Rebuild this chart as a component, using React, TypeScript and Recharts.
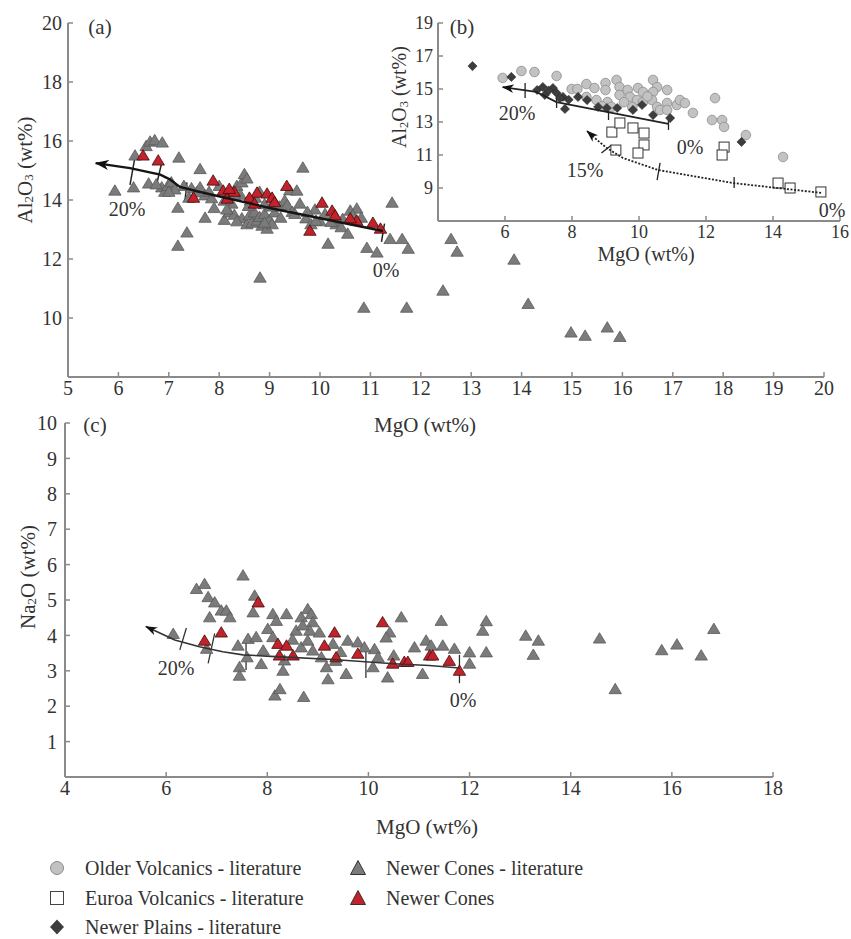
import React from 'react';
import { ScatterChart, Scatter, XAxis, YAxis, ReferenceLine } from 'recharts';

type P = [number, number];
type Seg = [P, P];
const toXY = (arr: P[]) => arr.map(([x, y]) => ({ x, y }));

// ---------- Panel (a): Al2O3 vs MgO ----------
const aMgOTicks = [5, 6, 7, 8, 9, 10, 11, 12, 13, 14, 15, 16, 17, 18, 19, 20];
const aAlTicks = [10, 12, 14, 16, 18, 20];
const aNewerConesLit: P[] = [
  [5.93, 14.34], [6.33, 15.53], [6.55, 15.85], [6.63, 16.0], [6.72, 16.05], [6.87, 15.97], [7.2, 15.46], [6.6, 14.58],
  [6.86, 14.45], [6.92, 14.3], [6.98, 14.5], [7.62, 15.07], [7.18, 13.76], [7.72, 13.42], [7.36, 12.92], [7.18, 12.47],
  [7.3, 14.5], [7.45, 14.42], [7.55, 14.28], [7.62, 14.45], [7.72, 14.18], [7.85, 14.08], [7.9, 13.75], [8.1, 13.35],
  [8.2, 13.6], [8.3, 13.52], [8.35, 14.5], [8.45, 14.62], [8.5, 14.9], [8.55, 14.75], [8.42, 14.2], [8.25, 13.9],
  [8.45, 13.4], [8.55, 13.2], [8.6, 13.5], [8.65, 13.25], [8.7, 13.6], [8.75, 13.32], [8.8, 13.45], [8.85, 13.15],
  [8.9, 13.55], [8.95, 13.05], [9.0, 13.35], [9.05, 13.2], [9.1, 13.6], [8.8, 14.3], [8.62, 14.0], [8.9, 13.88],
  [9.2, 13.8], [9.3, 14.0], [9.35, 13.85], [9.4, 14.35], [9.54, 14.34], [9.66, 15.12], [9.6, 13.9], [9.72, 13.4],
  [9.82, 13.2], [9.9, 13.7], [10.0, 13.3], [10.1, 13.55], [10.16, 12.54], [10.32, 13.2], [10.42, 13.1], [10.55, 12.88],
  [10.6, 13.66], [10.73, 13.73], [10.82, 13.42], [11.43, 13.93], [10.93, 12.4], [11.13, 12.24], [11.39, 12.7], [11.63, 12.7],
  [11.75, 12.37], [8.81, 11.39], [10.87, 10.37], [11.72, 10.37], [12.6, 12.7], [12.72, 12.27], [13.85, 12.0], [12.44, 10.95],
  [14.13, 10.5], [14.98, 9.53], [15.26, 9.42], [15.7, 9.7], [15.95, 9.38], [7.05, 14.62], [7.12, 14.38], [7.4, 14.1],
  [7.8, 14.3], [8.0, 14.5], [8.1, 14.0], [8.3, 14.2], [8.58, 13.82], [8.72, 14.1], [9.02, 13.8], [9.22, 13.42],
  [9.45, 13.62], [9.92, 13.32], [10.22, 13.28], [10.45, 13.38], [10.65, 13.5], [9.75, 13.62], [6.3, 14.45], [6.75, 14.55],
  [7.0, 14.3], [8.35, 13.3], [8.9, 13.25], [9.5, 13.55], [8.15, 13.7],
];
const aNewerCones: P[] = [
  [6.49, 15.53], [6.79, 15.36], [7.49, 14.1], [7.88, 14.68], [8.08, 14.34], [8.16, 14.07], [8.75, 14.27], [8.3, 14.3],
  [8.6, 14.1], [8.95, 14.24], [9.05, 14.1], [9.34, 14.5], [9.8, 12.98], [10.04, 13.93], [10.24, 13.66], [10.3, 13.5],
  [10.73, 13.32], [11.05, 13.25], [11.2, 13.05], [8.7, 13.9], [9.1, 13.95], [8.2, 14.4], [10.6, 13.4],
];
const aCurve: P[] = [
  [5.55, 15.25], [6.23, 15.08], [6.83, 14.86], [7.02, 14.7], [7.22, 14.44], [7.62, 14.27], [9.0, 13.73], [10.0, 13.38], [11.25, 12.95],
];
const aCurveTicks: Seg[] = [
  [[6.23, 14.51], [6.33, 15.46]],
  [[6.77, 14.61], [6.85, 15.2]],
  [[7.32, 13.95], [7.36, 14.6]],
  [[11.22, 12.58], [11.28, 13.2]],
];

// ---------- Panel (b): Al2O3 vs MgO (literature) ----------
const bMgOTicks = [6, 8, 10, 12, 14, 16];
const bAlTicks = [9, 11, 13, 15, 17, 19];
const bOlderVolcanics: P[] = [
  [5.93, 15.67], [6.49, 16.09], [6.88, 16.03], [7.54, 15.79], [7.99, 15.0], [8.16, 15.0], [8.43, 15.3], [8.67, 15.06],
  [9.0, 15.36], [9.33, 15.55], [9.0, 14.94], [8.73, 14.33], [8.43, 14.52], [9.06, 14.21], [9.18, 13.91], [9.42, 15.12],
  [9.42, 14.64], [9.66, 14.94], [9.73, 14.52], [9.97, 15.06], [9.94, 14.33], [10.12, 14.21], [10.12, 14.82], [10.42, 15.55],
  [10.54, 15.12], [10.42, 14.82], [10.39, 14.33], [10.54, 13.91], [10.63, 13.73], [10.84, 14.94], [10.84, 14.15], [10.84, 13.73],
  [11.13, 14.03], [11.22, 14.33], [11.37, 14.15], [11.61, 13.55], [12.27, 14.45], [12.18, 13.12], [12.48, 13.12], [12.54, 12.7],
  [13.19, 12.21], [14.3, 10.88], [8.9, 13.95], [9.55, 14.2], [9.8, 13.9], [10.25, 14.55],
];
const bEuroaVolcanics: P[] = [
  [9.19, 12.39], [9.43, 12.94], [9.82, 12.64], [10.15, 12.33], [10.15, 11.61], [9.31, 11.3], [9.97, 11.12], [12.54, 11.48],
  [12.48, 11.0], [14.15, 9.3], [14.51, 9.0], [15.43, 8.76],
];
const bNewerPlains: P[] = [
  [5.03, 16.39], [6.19, 15.73], [6.96, 14.94], [7.13, 15.12], [7.19, 14.64], [7.43, 15.06], [7.54, 14.76], [7.73, 14.52],
  [7.64, 14.45], [7.79, 13.79], [8.18, 14.52], [8.45, 14.33], [8.78, 13.91], [9.04, 13.85], [9.82, 13.73], [10.09, 14.03],
  [10.42, 13.42], [10.93, 13.24], [13.06, 11.79], [7.3, 14.9], [7.9, 14.35], [9.35, 13.85],
];
const bCurveSolid: P[] = [[5.93, 15.12], [6.93, 14.82], [7.54, 14.21], [10.88, 12.88]];
const bCurveSolidTicks: Seg[] = [
  [[6.6, 14.45], [6.6, 15.36]],
  [[7.54, 13.85], [7.54, 14.52]],
  [[9.09, 13.12], [9.09, 13.85]],
  [[10.88, 12.52], [10.88, 13.3]],
];
const bCurveDotted: P[] = [
  [8.45, 12.45], [8.75, 11.91], [9.04, 11.42], [9.52, 10.82], [10.57, 10.09], [12.81, 9.3], [15.46, 8.7],
];
const bCurveDottedTicks: Seg[] = [
  [[8.88, 11.12], [9.18, 11.6]],
  [[10.54, 9.48], [10.63, 10.52]],
  [[12.84, 9.0], [12.84, 9.67]],
];

// ---------- Panel (c): Na2O vs MgO ----------
const cMgOTicks = [4, 6, 8, 10, 12, 14, 16, 18];
const cNaTicks = [1, 2, 3, 4, 5, 6, 7, 8, 9, 10];
const cNewerConesLit: P[] = [
  [6.14, 4.06], [6.6, 5.33], [6.76, 5.47], [6.83, 5.1], [6.96, 4.95], [6.86, 4.53], [7.09, 4.72], [7.19, 4.72],
  [7.26, 4.53], [6.8, 3.64], [7.52, 5.71], [7.75, 5.14], [7.72, 4.67], [7.42, 3.73], [7.45, 3.12], [7.62, 3.92],
  [7.78, 3.97], [7.92, 3.59], [7.45, 2.88], [7.88, 3.21], [8.11, 4.62], [8.18, 4.43], [8.38, 4.62], [8.01, 4.2],
  [8.11, 3.97], [8.34, 3.31], [8.31, 3.02], [8.67, 3.68], [8.57, 4.15], [8.67, 4.53], [8.8, 4.76], [8.87, 4.62],
  [8.9, 4.39], [8.84, 4.15], [9.03, 4.1], [8.8, 3.87], [8.9, 3.59], [9.07, 3.4], [9.3, 3.78], [9.59, 3.87],
  [9.56, 2.93], [9.17, 3.12], [10.12, 3.63], [10.19, 3.4], [10.38, 2.83], [10.65, 4.53], [10.42, 4.1], [10.35, 3.96],
  [10.91, 3.68], [11.07, 2.93], [11.14, 3.87], [11.24, 3.73], [11.44, 4.43], [11.47, 3.73], [9.2, 2.78], [9.79, 3.82],
  [9.92, 3.68], [10.09, 3.12], [8.15, 2.32], [8.25, 2.5], [8.72, 2.28], [12.33, 4.42], [12.26, 4.15], [12.33, 3.54],
  [13.11, 4.01], [13.36, 3.87], [13.26, 3.47], [14.57, 3.93], [14.88, 2.5], [15.8, 3.6], [16.1, 3.76], [16.58, 3.45],
  [16.83, 4.2], [11.7, 3.64], [12.0, 3.54], [12.0, 3.22], [7.6, 3.4], [8.5, 3.9], [8.7, 4.3], [9.35, 3.3],
  [9.45, 3.55], [10.5, 3.45],
];
const cNewerCones: P[] = [
  [6.76, 3.87], [7.09, 4.1], [7.82, 4.95], [8.21, 3.78], [8.24, 3.45], [8.38, 3.73], [8.51, 3.45], [9.13, 3.73],
  [9.33, 4.1], [9.36, 3.4], [9.79, 3.5], [10.28, 4.39], [10.48, 3.22], [10.71, 3.27], [10.78, 3.27], [11.21, 3.45],
  [11.27, 3.45], [11.6, 3.3], [11.8, 3.02],
];
const cCurve: P[] = [
  [5.6, 4.25], [6.17, 3.87], [6.66, 3.68], [7.12, 3.54], [7.52, 3.45], [8.17, 3.4], [9.3, 3.32], [10.5, 3.2], [11.2, 3.15], [11.8, 3.08],
];
const cCurveTicks: Seg[] = [
  [[6.27, 3.59], [6.4, 4.21]],
  [[6.83, 3.21], [6.96, 4.06]],
  [[7.58, 3.02], [7.58, 3.91]],
  [[9.95, 2.8], [9.95, 3.6]],
  [[11.8, 2.65], [11.8, 3.45]],
];

// ---------- styling ----------
const SERIF = "'Liberation Serif', 'DejaVu Serif', serif";
const TXT = '#333333';
const AXIS = '#8a8a8a';
const GRAY_FILL = '#7b7b7b';
const GRAY_STROKE = '#5a5a5a';
const RED_FILL = '#c4222b';
const RED_STROKE = '#3e0d0d';
const CIRCLE_FILL = '#c2c2c2';
const CIRCLE_STROKE = '#8c8c8c';
const DIAMOND_FILL = '#3d3d3d';

const triangle = (fill: string, stroke: string) => (p: any) => {
  const { cx, cy } = p;
  if (cx == null || cy == null) return <g />;
  const w = 6.2, h = 5.2;
  return (
    <polygon points={`${cx},${cy - h} ${cx + w},${cy + h} ${cx - w},${cy + h}`} fill={fill} stroke={stroke} strokeWidth={0.8} />
  );
};
const circle = (p: any) => {
  const { cx, cy } = p;
  if (cx == null || cy == null) return <g />;
  return <circle cx={cx} cy={cy} r={4.8} fill={CIRCLE_FILL} stroke={CIRCLE_STROKE} strokeWidth={0.8} />;
};
const square = (p: any) => {
  const { cx, cy } = p;
  if (cx == null || cy == null) return <g />;
  return <rect x={cx - 5} y={cy - 5} width={10} height={10} fill="#ffffff" stroke="#333" strokeWidth={1} />;
};
const diamond = (p: any) => {
  const { cx, cy } = p;
  if (cx == null || cy == null) return <g />;
  const s = 4.6;
  return <polygon points={`${cx},${cy - s} ${cx + s},${cy} ${cx},${cy + s} ${cx - s},${cy}`} fill={DIAMOND_FILL} stroke="#222" strokeWidth={0.5} />;
};
const noDot = () => <g />;
const pathLine = (stroke: string, width: number, dash?: string, marker?: string) => (p: any) => {
  const pts: { x: number; y: number }[] = p.points || [];
  const d = pts.map((q, i) => `${i ? 'L' : 'M'}${q.x},${q.y}`).join(' ');
  return <path d={d} fill="none" stroke={stroke} strokeWidth={width} strokeDasharray={dash} markerStart={marker} />;
};

const tickStyle = (size: number) => ({ fill: TXT, fontSize: size, fontFamily: SERIF });

const Txt: React.FC<{ x: number; y: number; size?: number; rotate?: boolean; children: React.ReactNode }> = ({ x, y, size = 20, rotate, children }) => (
  <div
    style={{
      position: 'absolute', left: x, top: y, transform: `translate(-50%, -50%)${rotate ? ' rotate(-90deg)' : ''}`,
      fontFamily: SERIF, fontSize: size, color: TXT, whiteSpace: 'nowrap', lineHeight: 1,
    }}
  >
    {children}
  </div>
);
const Sub: React.FC<{ children: React.ReactNode }> = ({ children }) => (
  <span style={{ fontSize: '0.62em', verticalAlign: '-0.15em' }}>{children}</span>
);

const segLines = (segs: Seg[], stroke: string, w: number) =>
  segs.map((s, i) => (
    <ReferenceLine key={i} segment={[{ x: s[0][0], y: s[0][1] }, { x: s[1][0], y: s[1][1] }]} stroke={stroke} strokeWidth={w} />
  ));

const LegendMark: React.FC<{ kind: string }> = ({ kind }) => (
  <svg width={20} height={20} style={{ position: 'absolute', left: -10, top: -10 }}>
    {kind === 'circle' && <circle cx={10} cy={10} r={6.5} fill={CIRCLE_FILL} stroke={CIRCLE_STROKE} strokeWidth={1} />}
    {kind === 'square' && <rect x={3.5} y={3.5} width={13} height={13} fill="#fff" stroke="#444" strokeWidth={1} />}
    {kind === 'diamond' && <polygon points="10,2.5 17,10 10,17.5 3,10" fill={DIAMOND_FILL} />}
    {kind === 'gtri' && <polygon points="10,2.5 17.5,16.5 2.5,16.5" fill={GRAY_FILL} stroke="#333" strokeWidth={1} />}
    {kind === 'rtri' && <polygon points="10,2.5 17.5,16.5 2.5,16.5" fill={RED_FILL} stroke="#333" strokeWidth={1} />}
  </svg>
);
const LegendItem: React.FC<{ x: number; y: number; kind: string; label: string }> = ({ x, y, kind, label }) => (
  <>
    <div style={{ position: 'absolute', left: x, top: y }}><LegendMark kind={kind} /></div>
    <div style={{ position: 'absolute', left: x + 28, top: y, transform: 'translateY(-50%)', fontFamily: SERIF, fontSize: 20, color: TXT, whiteSpace: 'nowrap', lineHeight: 1 }}>{label}</div>
  </>
);

export default function App() {
  const axisLine = { stroke: AXIS, strokeWidth: 2 };
  const tickLine = { stroke: AXIS, strokeWidth: 1.5 };
  return (
    <div style={{ position: 'absolute', left: 0, top: 0, width: 851, height: 939, background: '#fff', overflow: 'hidden' }}>
      <svg width={0} height={0} style={{ position: 'absolute' }}>
        <defs>
          <marker id="arrowA" viewBox="0 0 14 10" refX={13} refY={5} markerWidth={14} markerHeight={10} markerUnits="userSpaceOnUse" orient="auto-start-reverse">
            <path d="M0,0 L14,5 L0,10 L4,5 Z" fill="#111" />
          </marker>
          <marker id="arrowB" viewBox="0 0 14 10" refX={13} refY={5} markerWidth={12} markerHeight={9} markerUnits="userSpaceOnUse" orient="auto-start-reverse">
            <path d="M0,0 L14,5 L0,10 L4,5 Z" fill="#111" />
          </marker>
        </defs>
      </svg>

      {/* Panel (a) */}
      <div style={{ position: 'absolute', left: 0, top: 0 }}>
        <ScatterChart width={851} height={420} margin={{ top: 23, right: 27, bottom: 13, left: 28 }}>
          <XAxis type="number" dataKey="x" domain={[5, 20]} ticks={aMgOTicks} interval={0} axisLine={axisLine} tickLine={tickLine}
            tickSize={-5} tickMargin={9} height={30} tick={tickStyle(20)} />
          <YAxis type="number" dataKey="y" domain={[8, 20]} ticks={aAlTicks} interval={0} axisLine={axisLine} tickLine={tickLine}
            tickSize={-5} tickMargin={11} width={40} tick={tickStyle(20)} />
          <Scatter data={toXY(aNewerConesLit)} shape={triangle(GRAY_FILL, GRAY_STROKE)} isAnimationActive={false} />
          <Scatter data={toXY(aNewerCones)} shape={triangle(RED_FILL, RED_STROKE)} isAnimationActive={false} />
          <Scatter data={toXY(aCurve)} shape={noDot} line={pathLine('#151515', 2.4, undefined, 'url(#arrowA)')} isAnimationActive={false} />
          {segLines(aCurveTicks, '#222', 1.5)}
        </ScatterChart>
      </div>
      <Txt x={100} y={27} size={21}>(a)</Txt>
      <Txt x={127} y={209} size={20}>20%</Txt>
      <Txt x={386} y={270} size={20}>0%</Txt>
      <Txt x={425} y={425} size={21}>MgO (wt%)</Txt>
      <Txt x={25} y={170} size={21} rotate>Al<Sub>2</Sub>O<Sub>3</Sub> (wt%)</Txt>

      {/* Panel (b) */}
      <div style={{ position: 'absolute', left: 390, top: 0 }}>
        <ScatterChart width={461} height={260} margin={{ top: 23, right: 11, bottom: 9, left: 8 }}>
          <XAxis type="number" dataKey="x" domain={[4, 16]} ticks={bMgOTicks} interval={0} axisLine={axisLine} tickLine={tickLine}
            tickSize={-5} tickMargin={9} height={30} tick={tickStyle(18)} />
          <YAxis type="number" dataKey="y" domain={[7, 19]} ticks={bAlTicks} interval={0} axisLine={axisLine} tickLine={tickLine}
            tickSize={-5} tickMargin={10} width={40} tick={tickStyle(18)} />
          <Scatter data={toXY(bOlderVolcanics)} shape={circle} isAnimationActive={false} />
          <Scatter data={toXY(bNewerPlains)} shape={diamond} isAnimationActive={false} />
          <Scatter data={toXY(bEuroaVolcanics)} shape={square} isAnimationActive={false} />
          <Scatter data={toXY(bCurveSolid)} shape={noDot} line={pathLine('#222', 1.8, undefined, 'url(#arrowB)')} isAnimationActive={false} />
          <Scatter data={toXY(bCurveDotted)} shape={noDot} line={pathLine('#222', 1.8, '2 1.6', 'url(#arrowB)')} isAnimationActive={false} />
          {segLines(bCurveSolidTicks, '#222', 1.3)}
          {segLines(bCurveDottedTicks, '#222', 1.3)}
        </ScatterChart>
      </div>
      <Txt x={462} y={27} size={21}>(b)</Txt>
      <Txt x={517} y={113} size={20}>20%</Txt>
      <Txt x={690} y={147} size={20}>0%</Txt>
      <Txt x={585} y={170} size={20}>15%</Txt>
      <Txt x={832} y={210} size={20}>0%</Txt>
      <Txt x={646} y={254} size={20}>MgO (wt%)</Txt>
      <Txt x={400} y={97} size={20} rotate>Al<Sub>2</Sub>O<Sub>3</Sub> (wt%)</Txt>

      {/* Panel (c) */}
      <div style={{ position: 'absolute', left: 0, top: 400 }}>
        <ScatterChart width={851} height={420} margin={{ top: 23, right: 78, bottom: 13, left: 25 }}>
          <XAxis type="number" dataKey="x" domain={[4, 18]} ticks={cMgOTicks} interval={0} axisLine={axisLine} tickLine={tickLine}
            tickSize={-5} tickMargin={9} height={30} tick={tickStyle(20)} />
          <YAxis type="number" dataKey="y" domain={[0, 10]} ticks={cNaTicks} interval={0} axisLine={axisLine} tickLine={tickLine}
            tickSize={-5} tickMargin={13} width={40} tick={tickStyle(20)} />
          <Scatter data={toXY(cNewerConesLit)} shape={triangle(GRAY_FILL, GRAY_STROKE)} isAnimationActive={false} />
          <Scatter data={toXY(cNewerCones)} shape={triangle(RED_FILL, RED_STROKE)} isAnimationActive={false} />
          <Scatter data={toXY(cCurve)} shape={noDot} line={pathLine('#333', 1.6, undefined, 'url(#arrowB)')} isAnimationActive={false} />
          {segLines(cCurveTicks, '#333', 1.3)}
        </ScatterChart>
      </div>
      <Txt x={95} y={425} size={21}>(c)</Txt>
      <Txt x={176} y={668} size={20}>20%</Txt>
      <Txt x={463} y={700} size={20}>0%</Txt>
      <Txt x={427} y={827} size={21}>MgO (wt%)</Txt>
      <Txt x={28} y={577} size={21} rotate>Na<Sub>2</Sub>O (wt%)</Txt>

      {/* Legend */}
      <LegendItem x={57} y={868} kind="circle" label="Older Volcanics - literature" />
      <LegendItem x={57} y={898} kind="square" label="Euroa Volcanics - literature" />
      <LegendItem x={57} y={927} kind="diamond" label="Newer Plains - literature" />
      <LegendItem x={358} y={868} kind="gtri" label="Newer Cones - literature" />
      <LegendItem x={358} y={898} kind="rtri" label="Newer Cones" />
    </div>
  );
}
